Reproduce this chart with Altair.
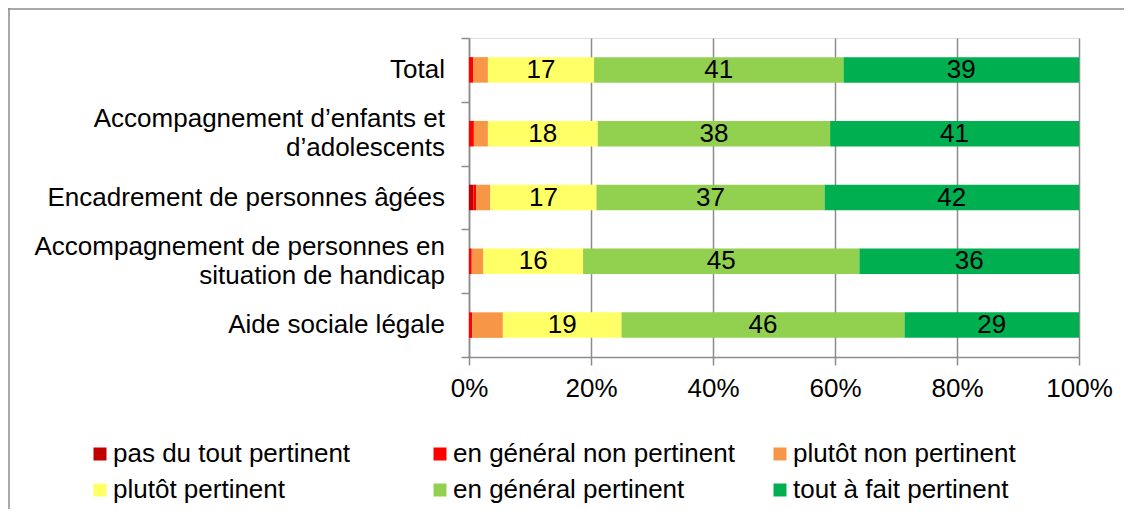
import altair as alt
import pandas as pd

# Categories (top to bottom)
categories = [
    "Total",
    "Accompagnement d’enfants et\nd’adolescents",
    "Encadrement de personnes âgées",
    "Accompagnement de personnes en\nsituation de handicap",
    "Aide sociale légale",
]

series = [
    "pas du tout pertinent",
    "en général non pertinent",
    "plutôt non pertinent",
    "plutôt pertinent",
    "en général pertinent",
    "tout à fait pertinent",
]
colors = ["#C00000", "#FF0000", "#F79646", "#FFFF66", "#92D050", "#00B050"]

# Values (% per category, same order as categories)
pas_du_tout = [0.0, 0.0, 0.7, 0.0, 0.0]
en_general_non = [0.7, 0.8, 0.5, 0.45, 0.55]
plutot_non = [2.4, 2.3, 2.3, 1.9, 5.0]
plutot = [17.4, 18.0, 17.4, 16.35, 19.45]
en_general = [40.9, 38.1, 37.4, 45.3, 46.4]
tout_a_fait = [38.6, 40.8, 41.7, 36.0, 28.6]

all_values = [pas_du_tout, en_general_non, plutot_non, plutot, en_general, tout_a_fait]

rows = []
for si, (s, vals) in enumerate(zip(series, all_values)):
    for c, v in zip(categories, vals):
        rows.append({"cat": c, "series": s, "value": v, "order": si})
df = pd.DataFrame(rows)

cat_df = pd.DataFrame({"cat": categories, "nlines": [c.count("\n") + 1 for c in categories]})

# legend fills column by column (2 rows x 3 columns): reorder so it reads row by row
legend_order = [0, 3, 1, 4, 2, 5]
legend_domain = [series[i] for i in legend_order]
legend_range = [colors[i] for i in legend_order]

FONT = "Liberation Sans"
GRAY = "#8c8c8c"

y_enc = alt.Y(
    "cat:N",
    sort=categories,
    scale=alt.Scale(paddingInner=0, paddingOuter=0),
    axis=alt.Axis(
        title=None,
        tickBand="extent",
        tickSize=8,
        tickColor=GRAY,
        tickWidth=1.5,
        domainColor=GRAY,
        domainWidth=1.5,
        labels=False,
    ),
)

base = alt.Chart(df).transform_stack(
    stack="value",
    groupby=["cat"],
    as_=["x0", "x1"],
    sort=[alt.SortField("order", order="ascending")],
)

bars = base.mark_bar(height=alt.RelativeBandSize(0.4)).encode(
    x=alt.X(
        "x0:Q",
        scale=alt.Scale(domain=[0, 100], nice=False),
        axis=alt.Axis(
            values=[0, 20, 40, 60, 80, 100],
            labelExpr="datum.value + '%'",
            title=None,
            grid=True,
            gridColor=GRAY,
            gridWidth=1.5,
            domainColor=GRAY,
            domainWidth=1.5,
            tickColor=GRAY,
            tickWidth=1.5,
            tickSize=8,
            labelFont=FONT,
            labelFontSize=26,
            labelColor="#000000",
            labelPadding=10,
            labelFlush=False,
        ),
    ),
    x2="x1:Q",
    y=y_enc,
    color=alt.Color(
        "series:N",
        scale=alt.Scale(domain=legend_domain, range=legend_range),
        legend=alt.Legend(
            title=None,
            orient="none",
            legendX=-382,
            legendY=403,
            columns=3,
            gridAlign="all",
            columnPadding=32,
            rowPadding=10,
            symbolType="square",
            symbolSize=169,
            symbolStrokeWidth=0,
            labelFont=FONT,
            labelFontSize=26,
            labelColor="#000000",
            labelOffset=0,
            labelLimit=600,
            padding=0,
        ),
    ),
)

texts = base.transform_filter(
    alt.datum.order >= 3
).transform_calculate(
    mid="(datum.x0 + datum.x1) / 2"
).mark_text(font=FONT, fontSize=26, color="#000000", baseline="middle").encode(
    x=alt.X("mid:Q"),
    y=alt.Y("cat:N", sort=categories),
    text=alt.Text("value:Q", format=".0f"),
)

# category labels (one-line and two-line), right-aligned left of the axis
lab1 = alt.Chart(cat_df).transform_filter(alt.datum.nlines == 1).mark_text(
    font=FONT, fontSize=26, color="#000000", align="right", baseline="middle"
).encode(
    x=alt.value(-24),
    y=alt.Y("cat:N", sort=categories),
    text="cat:N",
)
lab2 = alt.Chart(cat_df).transform_filter(alt.datum.nlines == 2).mark_text(
    font=FONT, fontSize=26, color="#000000", align="right", baseline="middle",
    lineBreak="\n", lineHeight=29, dy=-14.5,
).encode(
    x=alt.value(-24),
    y=alt.Y("cat:N", sort=categories),
    text="cat:N",
)

one = pd.DataFrame({"k": [0]})
frame_top = alt.Chart(one).mark_rule(color=GRAY, strokeWidth=1.5).encode(
    x=alt.value(-461), x2=alt.value(660), y=alt.value(-29)
)
frame_left = alt.Chart(one).mark_rule(color=GRAY, strokeWidth=1.5).encode(
    x=alt.value(-460), y=alt.value(-30), y2=alt.value(480)
)

chart = alt.layer(frame_top, frame_left, bars, texts, lab1, lab2).properties(
    width=610,
    height=319,
    padding={"left": 461, "top": 30, "right": 45, "bottom": 152},
    autosize=alt.AutoSizeParams(type="none"),
).configure_view(strokeWidth=0).configure(background="#ffffff")

chart.save("out.html", embed_options={"renderer": "svg", "actions": False})
